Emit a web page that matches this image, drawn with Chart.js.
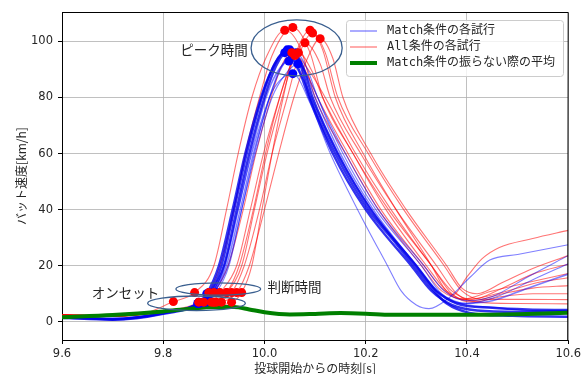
<!DOCTYPE html>
<html>
<head>
<meta charset="utf-8">
<script src="https://cdn.jsdelivr.net/npm/chart.js"></script>
<style>
  html, body { margin: 0; padding: 0; background: #fff; }
  #wrap { width: 584px; height: 374px; }
</style>
</head>
<body>
<div id="wrap"><canvas id="myChart" width="584" height="374"></canvas></div>
<script>
// [time s, bat speed km/h, marker]  marker: 'on' = onset, 'judge' = 判断時間, 'peak' = ピーク
const matchTrial1 = [[9.6,1.5],[9.65,1.2],[9.7,0.8],[9.75,1.5],[9.8,3.0],[9.87,6.5,'on'],[9.89,9.8,'judge'],[9.915,20],[9.94,40],[9.965,60],[9.995,80],[10.02,92],[10.045,97,'peak'],[10.07,92],[10.09,80],[10.14,60],[10.205,40],[10.255,29],[10.295,20],[10.33,12],[10.36,6.5],[10.405,3.2],[10.49,2.1],[10.6,1.8]];
const matchTrial2 = [[9.6,1.5],[9.7,1.0],[9.8,3.2],[9.875,6.8,'on'],[9.895,10.2,'judge'],[9.92,20],[9.945,40],[9.97,60],[10.0,80],[10.025,92],[10.05,97,'peak'],[10.075,91.5],[10.095,80],[10.145,60],[10.21,40],[10.3,20],[10.34,11],[10.38,6.5],[10.45,5],[10.52,4.4],[10.6,4.2]];
const matchTrial3 = [[9.6,1.8],[9.7,1.2],[9.8,3.0],[9.878,7,'on'],[9.898,10.4,'judge'],[9.922,20],[9.948,40],[9.973,60],[10.003,80],[10.025,89],[10.048,93,'peak'],[10.075,87],[10.1,77],[10.15,58],[10.215,39],[10.3,20],[10.345,10],[10.39,6.5],[10.45,7.5],[10.52,12],[10.6,17]];
const matchTrial4 = [[9.6,1.5],[9.7,0.9],[9.8,3.0],[9.885,7,'on'],[9.905,10.4,'judge'],[9.93,20],[9.955,40],[9.98,60],[10.01,80],[10.035,91],[10.062,96,'peak'],[10.085,90],[10.105,80],[10.155,60],[10.22,40],[10.31,20],[10.35,10],[10.4,6.5],[10.46,9],[10.53,15],[10.6,20.7]];
const matchTrial5 = [[9.6,1.6],[9.7,1.0],[9.8,3.0],[9.88,7,'on'],[9.9,10.4,'judge'],[9.928,20],[9.955,40],[9.982,60],[10.015,80],[10.04,88],[10.066,92,'peak'],[10.095,84],[10.115,76],[10.16,60],[10.225,40],[10.315,20],[10.355,11],[10.4,7.5],[10.45,9],[10.52,16],[10.6,23.6]];
const matchTrial6 = [[9.6,1.5],[9.7,0.8],[9.8,3.0],[9.87,7,'on'],[9.89,10.4,'judge'],[9.92,20],[9.948,40],[9.975,60],[10.01,80],[10.03,86],[10.056,88.5,'peak'],[10.09,78],[10.13,60],[10.184,40],[10.243,20],[10.27,11],[10.3,6],[10.325,4.7],[10.365,8.6],[10.405,15.7],[10.445,22],[10.5,24],[10.6,27.5]];
const matchTrial7 = [[9.6,1.4],[9.7,0.7],[9.8,2.8],[9.868,6.5,'on'],[9.886,10,'judge'],[9.91,20],[9.937,40],[9.962,60],[9.993,80],[10.015,90],[10.04,96,'peak'],[10.065,91],[10.088,80],[10.135,60],[10.2,40],[10.29,20],[10.33,11],[10.37,6],[10.42,4],[10.5,3.5],[10.6,3.9]];
const matchTrial8 = [[9.6,1.6],[9.7,1.1],[9.8,3.2],[9.88,7,'on'],[9.9,10.4,'judge'],[9.925,20],[9.952,40],[9.978,60],[10.01,80],[10.03,90],[10.055,95,'peak'],[10.08,89],[10.1,80],[10.15,60],[10.215,40],[10.3,20],[10.34,11],[10.39,6.5],[10.46,5],[10.53,3.8],[10.6,3.0]];

const allTrial1 = [[9.6,2.5],[9.7,2.0],[9.76,2.8],[9.82,7.2,'on'],[9.862,10.4,'judge'],[9.9,20],[9.925,40],[9.948,60],[9.975,80],[10.005,95],[10.04,104,'peak'],[10.07,98],[10.1,80],[10.16,60],[10.225,40],[10.31,20],[10.35,11],[10.4,8],[10.48,11],[10.54,14],[10.6,15.7]];
const allTrial2 = [[9.6,2.5],[9.7,2.0],[9.8,3.8],[9.87,7,'on'],[9.89,10.4,'judge'],[9.912,20],[9.94,40],[9.962,60],[9.99,80],[10.015,95],[10.056,105,'peak'],[10.09,96],[10.115,80],[10.175,60],[10.24,40],[10.32,20],[10.36,11],[10.41,7.5],[10.47,10],[10.53,12],[10.6,12.9]];
const allTrial3 = [[9.6,2.5],[9.7,2.1],[9.8,3.6],[9.9,7,'on'],[9.925,10.4,'judge'],[9.955,20],[9.98,40],[10.005,60],[10.035,80],[10.06,95],[10.09,104,'peak'],[10.115,97],[10.14,80],[10.195,60],[10.26,40],[10.33,20],[10.355,12],[10.372,9.5],[10.4,16],[10.43,22.5],[10.464,26.5],[10.53,29.7],[10.6,32.6]];
const allTrial4 = [[9.6,2.4],[9.7,2.0],[9.8,3.6],[9.905,7,'on'],[9.935,10.4,'judge'],[9.96,20],[9.99,40],[10.015,60],[10.045,80],[10.07,96],[10.095,103,'peak'],[10.12,96],[10.145,80],[10.205,60],[10.275,40],[10.355,20],[10.39,11],[10.43,8],[10.5,8],[10.6,7.9]];
const allTrial5 = [[9.6,2.5],[9.7,2.2],[9.8,3.7],[9.895,7,'on'],[9.912,10.4,'judge'],[9.945,20],[9.972,40],[9.998,60],[10.03,80],[10.055,93],[10.08,99.5,'peak'],[10.11,92],[10.13,80],[10.19,60],[10.26,40],[10.34,20],[10.38,10],[10.42,7],[10.5,6.5],[10.6,6.4]];
const allTrial6 = [[9.6,2.6],[9.7,2.2],[9.8,3.5],[9.915,7,'on'],[9.945,10.4,'judge'],[9.97,20],[10.0,40],[10.028,60],[10.058,80],[10.085,94],[10.11,101,'peak'],[10.135,94],[10.155,80],[10.21,60],[10.28,40],[10.36,20],[10.39,12],[10.42,10],[10.47,14],[10.53,19],[10.6,23.6]];
const allTrial7 = [[9.6,2.4],[9.7,1.9],[9.8,3.6],[9.88,7,'on'],[9.9,10.4,'judge'],[9.928,20],[9.958,40],[9.983,60],[10.013,80],[10.033,91],[10.054,96,'peak'],[10.085,88],[10.105,80],[10.165,60],[10.23,40],[10.315,20],[10.35,12],[10.39,8],[10.45,11],[10.52,14],[10.6,17.2]];
const allTrial8 = [[9.6,2.5],[9.7,2.0],[9.8,3.6],[9.9,7,'on'],[9.925,10.4,'judge'],[9.95,20],[9.978,40],[10.002,60],[10.03,80],[10.048,90],[10.067,96,'peak'],[10.095,89],[10.115,80],[10.175,60],[10.245,40],[10.33,20],[10.37,10],[10.41,7],[10.47,9],[10.53,10],[10.6,10]];
const allTrial9 = [[9.6,2.5],[9.7,2.1],[9.8,3.7],[9.935,7,'on'],[9.955,10.4,'judge'],[9.975,20],[9.995,40],[10.015,60],[10.037,80],[10.06,95,'peak'],[10.09,89],[10.12,80],[10.18,60],[10.25,40],[10.33,20],[10.37,11],[10.41,8],[10.47,12],[10.53,17],[10.6,20.5]];

const matchNoSwingMean = [[9.6,1.6],[9.7,2.4],[9.8,3.7],[9.85,4.6],[9.9,5.3],[9.94,5.3],[9.97,4.4],[10.0,3.4],[10.05,2.6],[10.1,2.8],[10.15,3.1],[10.2,2.9],[10.25,2.5],[10.4,2.5],[10.5,2.7],[10.6,3.2]];

const xTicks = [9.6, 9.8, 10.0, 10.2, 10.4, 10.6];
const xTickLabels = ['9.6', '9.8', '10.0', '10.2', '10.4', '10.6'];
const yTicks = [0, 20, 40, 60, 80, 100];
const yTickLabels = ['0', '20', '40', '60', '80', '100'];
const legendLabels = ['Match条件の各試行', 'All条件の各試行', 'Match条件の振らない際の平均'];
const xTitle = '投球開始からの時刻[s]';
const yTitle = 'バット速度[km/h]';

const matchTrials = [matchTrial1, matchTrial2, matchTrial3, matchTrial4, matchTrial5, matchTrial6, matchTrial7, matchTrial8];
const allTrials = [allTrial1, allTrial2, allTrial3, allTrial4, allTrial5, allTrial6, allTrial7, allTrial8, allTrial9];
// line weights for the blue trials (the dense bundle looks thicker)
const matchWidths = [2.4, 2.4, 1.6, 1.1, 1.1, 1.1, 2.4, 1.4];

const toXY = arr => arr.map(p => ({x: p[0], y: p[1]}));
const marks = trials => trials.flatMap(tr => tr.filter(p => p[2]).map(p => ({x: p[0], y: p[1]})));

const datasets = [];
datasets.push({type: 'scatter', data: marks(allTrials), backgroundColor: '#ff0000', borderWidth: 0, pointRadius: 4.5, showLine: false});
datasets.push({type: 'scatter', data: marks(matchTrials), backgroundColor: '#0000ff', borderWidth: 0, pointRadius: 4.5, showLine: false});
datasets.push({data: toXY(matchNoSwingMean), borderColor: '#008000', borderWidth: 4, pointRadius: 0, cubicInterpolationMode: 'monotone'});
matchTrials.forEach((tr, i) => {
    datasets.push({
        data: toXY(tr),
        borderColor: matchWidths[i] > 2 ? 'rgba(0,0,235,0.8)' : 'rgba(0,0,255,0.5)',
        borderWidth: matchWidths[i],
        pointRadius: 0,
        cubicInterpolationMode: 'monotone'
    });
});
allTrials.forEach(tr => {
    datasets.push({data: toXY(tr), borderColor: 'rgba(255,0,0,0.55)', borderWidth: 1.1, pointRadius: 0, cubicInterpolationMode: 'monotone'});
});

// ellipses and notes, in data units
const ellipses = [
    {cx: 10.0635, cy: 97.7, rx: 0.09, ry: 10},
    {cx: 9.9087, cy: 11.7, rx: 0.0838, ry: 2.2},
    {cx: 9.8657, cy: 6.6, rx: 0.0966, ry: 2.6}
];
const notes = [
    {text: 'ピーク時間', x: 9.967, y: 97, align: 'right'},
    {text: '判断時間', x: 10.006, y: 12.4, align: 'left'},
    {text: 'オンセット', x: 9.659, y: 10.3, align: 'left'}
];

const extras = {
    id: 'extras',
    afterDatasetsDraw(chart) {
        const {ctx, chartArea: a, scales: {x, y}} = chart;
        ctx.save();
        // top and right spines
        ctx.strokeStyle = '#000';
        ctx.lineWidth = 1;
        ctx.beginPath();
        ctx.moveTo(a.left, a.top + 0.5);
        ctx.lineTo(a.right, a.top + 0.5);
        ctx.lineTo(a.right - 0.5, a.bottom);
        ctx.stroke();

        ctx.strokeStyle = '#3a5f8f';
        ctx.lineWidth = 1.3;
        ellipses.forEach(e => {
            const cx = x.getPixelForValue(e.cx), cy = y.getPixelForValue(e.cy);
            const rx = Math.abs(x.getPixelForValue(e.cx + e.rx) - cx);
            const ry = Math.abs(y.getPixelForValue(e.cy + e.ry) - cy);
            ctx.beginPath();
            ctx.ellipse(cx, cy, rx, ry, 0, 0, Math.PI * 2);
            ctx.stroke();
        });

        ctx.fillStyle = '#262626';
        ctx.font = '13.5px "Noto Sans CJK JP"';
        ctx.textBaseline = 'middle';
        notes.forEach(n => {
            ctx.textAlign = n.align;
            ctx.fillText(n.text, x.getPixelForValue(n.x), y.getPixelForValue(n.y));
        });

        // legend box
        const lx = 346, ly = 20, lw = 217, lh = 56;
        ctx.fillStyle = 'rgba(255,255,255,0.8)';
        ctx.strokeStyle = '#cccccc';
        ctx.lineWidth = 1;
        ctx.beginPath();
        ctx.roundRect(lx + 0.5, ly + 0.5, lw, lh, 3);
        ctx.fill();
        ctx.stroke();
        const rows = [
            {color: 'rgba(0,0,255,0.6)', width: 1.1, y: 31},
            {color: 'rgba(255,0,0,0.6)', width: 1.1, y: 47},
            {color: '#008000', width: 4, y: 63}
        ];
        ctx.font = '12px "DejaVu Sans Mono", "Noto Sans CJK JP"';
        ctx.textAlign = 'left';
        rows.forEach((r, i) => {
            ctx.strokeStyle = r.color;
            ctx.lineWidth = r.width;
            ctx.beginPath();
            ctx.moveTo(350, r.y);
            ctx.lineTo(377, r.y);
            ctx.stroke();
            ctx.fillStyle = '#262626';
            ctx.fillText(legendLabels[i], 387, r.y);
        });
        ctx.restore();
    }
};

const ctx = document.getElementById('myChart');
new Chart(ctx, {
    type: 'line',
    data: {datasets: datasets},
    options: {
        responsive: false,
        devicePixelRatio: 1,
        animation: false,
        events: [],
        layout: {padding: {top: 12, right: 15, left: 0, bottom: 0}},
        plugins: {legend: {display: false}, tooltip: {enabled: false}},
        scales: {
            x: {
                type: 'linear',
                min: 9.6,
                max: 10.6,
                afterBuildTicks: s => { s.ticks = xTicks.map(v => ({value: v})); },
                afterFit: s => { s.height = 34; },
                ticks: {
                    callback: (v, i) => xTickLabels[i],
                    autoSkip: false,
                    maxRotation: 0,
                    padding: 3,
                    color: '#262626',
                    font: {family: 'DejaVu Sans', size: 11.5}
                },
                grid: {color: '#b0b0b0', lineWidth: 0.8, tickColor: '#000', tickLength: 4, tickWidth: 1},
                border: {color: '#000', width: 1},
                title: {display: true, text: xTitle, color: '#262626', padding: {top: 0, bottom: 0},
                        font: {family: 'Noto Sans CJK JP', size: 12, lineHeight: 1}}
            },
            y: {
                min: -6.5,
                max: 110.5,
                afterBuildTicks: s => { s.ticks = yTicks.map(v => ({value: v})); },
                afterFit: s => { s.width = 62; },
                ticks: {
                    callback: (v, i) => yTickLabels[i],
                    padding: 5,
                    color: '#262626',
                    font: {family: 'DejaVu Sans', size: 11.5}
                },
                grid: {color: '#b0b0b0', lineWidth: 0.8, tickColor: '#000', tickLength: 4, tickWidth: 1},
                border: {color: '#000', width: 1},
                title: {display: true, text: yTitle, color: '#262626', padding: {top: 14, bottom: 0},
                        font: {family: 'Noto Sans CJK JP', size: 12}}
            }
        }
    },
    plugins: [extras]
});
</script>
</body>
</html>
